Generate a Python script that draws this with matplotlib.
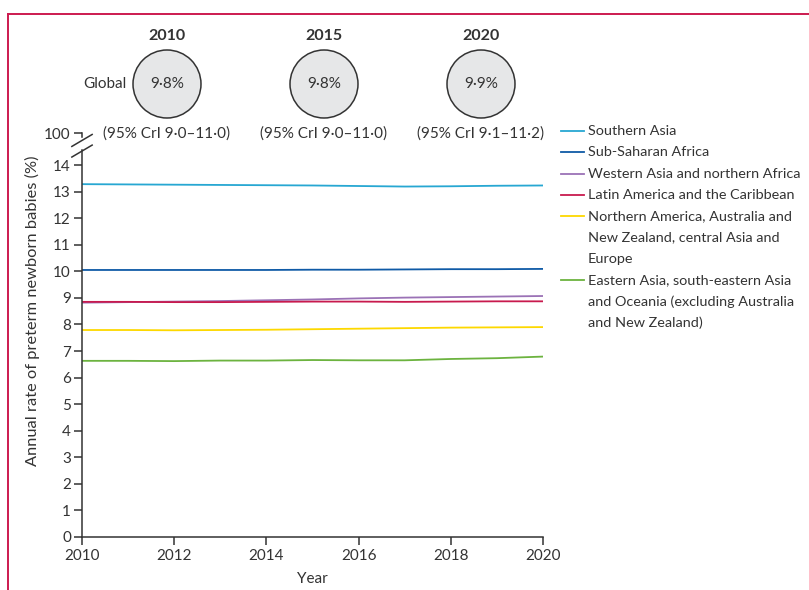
import matplotlib.pyplot as plt
from matplotlib.lines import Line2D
from matplotlib.patches import Circle

plt.rcParams['font.family'] = ['Lato', 'DejaVu Sans']

# DATA
years = [2010, 2011, 2012, 2013, 2014, 2015, 2016, 2017, 2018, 2019, 2020]

southern_asia = [13.28, 13.27, 13.26, 13.25, 13.24, 13.23, 13.21, 13.19, 13.20, 13.22, 13.23]
sub_saharan = [10.05, 10.05, 10.05, 10.05, 10.05, 10.06, 10.06, 10.07, 10.08, 10.08, 10.09]
western_asia = [8.82, 8.84, 8.86, 8.88, 8.91, 8.94, 8.98, 9.01, 9.03, 9.05, 9.07]
latin_america = [8.85, 8.85, 8.84, 8.84, 8.85, 8.86, 8.86, 8.85, 8.86, 8.87, 8.87]
northern_america = [7.79, 7.79, 7.78, 7.79, 7.80, 7.82, 7.84, 7.86, 7.88, 7.89, 7.90]
eastern_asia = [6.63, 6.63, 6.62, 6.64, 6.64, 6.66, 6.65, 6.65, 6.70, 6.73, 6.79]

series = [southern_asia, sub_saharan, western_asia, latin_america, northern_america, eastern_asia]
labels = [
    "Southern Asia",
    "Sub-Saharan Africa",
    "Western Asia and northern Africa",
    "Latin America and the Caribbean",
    "Northern America, Australia and\nNew Zealand, central Asia and\nEurope",
    "Eastern Asia, south-eastern Asia\nand Oceania (excluding Australia\nand New Zealand)",
]
colors = ["#27a7d2", "#0f5aa6", "#9b72b6", "#c81a4e", "#fdd800", "#6cb33f"]

global_years = ["2010", "2015", "2020"]
global_rates = ["9·8%", "9·8%", "9·9%"]
global_cri = ["(95% CrI 9·0–11·0)", "(95% CrI 9·0–11·0)", "(95% CrI 9·1–11·2)"]

y_ticks = list(range(0, 15))
x_ticks = [2010, 2012, 2014, 2016, 2018, 2020]

# STYLE
W, H = 809, 590
TEXT_COLOR = "#333333"
FRAME_COLOR = "#cc1a4f"
FONT_SIZE = 11
LEGEND_FONT_SIZE = 10.4
BREAK_POS = 15.2  # position used for the "100" tick above the axis break

fig = plt.figure(figsize=(W / 100, H / 100), dpi=100)
fig.patch.set_facecolor("white")

# main axes: 2010 at x=82px, 2020 at x=543px, 0 at y=537px, 1 unit = 26.57px
ax_left, ax_right = 82 / W, 543 / W
ax_bottom = 1 - 537 / H
y_top = 15.3
ax_height = y_top * 26.57 / H
ax = fig.add_axes([ax_left, ax_bottom, ax_right - ax_left, ax_height])

for vals, col in zip(series, colors):
    ax.plot(years, vals, color=col, lw=1.3, solid_capstyle="butt")

ax.set_xlim(2010, 2020)
ax.set_ylim(0, y_top)
ax.set_xticks(x_ticks)
ax.set_yticks(y_ticks + [BREAK_POS])
ax.set_yticklabels([str(t) for t in y_ticks] + ["100"])
for s in ["top", "right"]:
    ax.spines[s].set_visible(False)
ax.spines["left"].set_bounds(0, 14.55)
ax.spines["bottom"].set_position(("data", 0))
for s in ["left", "bottom"]:
    ax.spines[s].set_color(TEXT_COLOR)
    ax.spines[s].set_linewidth(1.1)
ax.tick_params(axis="both", direction="out", length=6, width=1.1, color=TEXT_COLOR,
               labelsize=FONT_SIZE, labelcolor=TEXT_COLOR, pad=2)
ax.tick_params(axis="x", pad=3)
ax.patch.set_alpha(0)

# axis break marks
ax.plot([2010, 2010], [BREAK_POS, 15.05], color=TEXT_COLOR, lw=1.1, clip_on=False)
for yb in [14.75, 15.15]:
    ax.plot([2010 - 0.22, 2010 + 0.22], [yb - 0.45, yb + 0.0], color=TEXT_COLOR,
            lw=1.1, clip_on=False)

ax.set_xlabel("Year", fontsize=FONT_SIZE, color=TEXT_COLOR, labelpad=6)
fig.text(32 / W, 1 - 311 / H, "Annual rate of preterm newborn babies (%)",
         rotation=90, ha="center", va="center", fontsize=FONT_SIZE + 0.8, color=TEXT_COLOR)

# overlay in pixel coordinates for frame, circles and legend
ov = fig.add_axes([0, 0, 1, 1])
ov.set_xlim(0, W)
ov.set_ylim(H, 0)
ov.axis("off")
ov.patch.set_alpha(0)

ov.add_line(Line2D([8, W], [14, 14], color=FRAME_COLOR, lw=1.4))
ov.add_line(Line2D([8, 8], [14, H], color=FRAME_COLOR, lw=1.4))

circle_x = [167, 324, 481]
for cx, yr, rate, cri in zip(circle_x, global_years, global_rates, global_cri):
    ov.text(cx, 36, yr, ha="center", va="center", fontsize=FONT_SIZE + 0.5,
            fontweight="bold", color=TEXT_COLOR)
    ov.add_patch(Circle((cx, 84), 34, facecolor="#e6e7e8", edgecolor=TEXT_COLOR, lw=1.1))
    ov.text(cx, 84, rate, ha="center", va="center", fontsize=FONT_SIZE, color=TEXT_COLOR)
    ov.text(cx, 134, cri, ha="center", va="center", fontsize=FONT_SIZE, color=TEXT_COLOR)
ov.text(127, 84, "Global", ha="right", va="center", fontsize=FONT_SIZE, color=TEXT_COLOR)

# legend, handle aligned with the first line of each label
line_h = 21.3
y = 131
for lab, col in zip(labels, colors):
    ov.add_line(Line2D([561, 584], [y, y], color=col, lw=1.3))
    for i, part in enumerate(lab.split("\n")):
        ov.text(588, y + i * line_h, part, ha="left", va="center",
                fontsize=LEGEND_FONT_SIZE, color=TEXT_COLOR)
    y += line_h * (lab.count("\n") + 1)

fig.savefig("out.png", dpi=100)
